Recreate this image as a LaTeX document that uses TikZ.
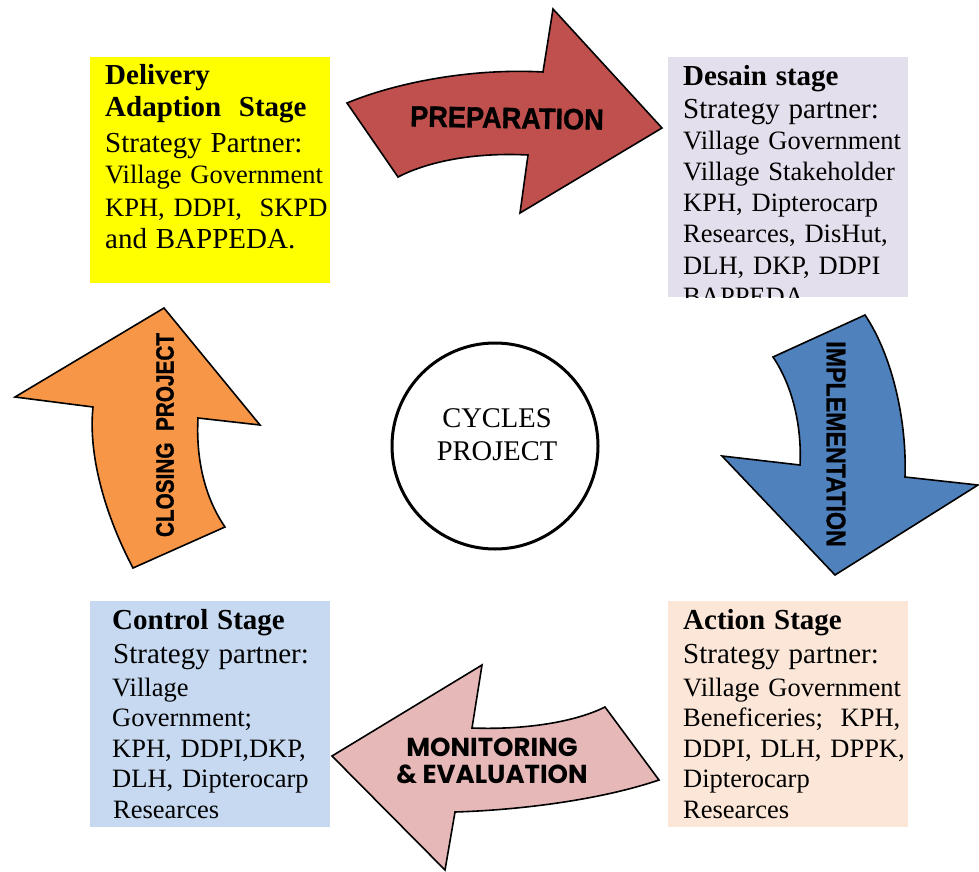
\documentclass[tikz,border=0pt]{standalone}
\usepackage{graphicx}
\usepackage{fontspec}
\setmainfont{Liberation Serif}
\newfontfamily\arrowfont[BoldFeatures={FakeBold=1.2}]{Liberation Sans}
\newfontfamily\comicfont{Poppins}
\definecolor{yellowbox}{HTML}{FFFF00}
\definecolor{lavenderbox}{HTML}{E4DFEC}
\definecolor{bluebox}{HTML}{C6D9F1}
\definecolor{peachbox}{HTML}{FBE6D8}
\definecolor{prepcolor}{HTML}{C0504D}
\definecolor{implcolor}{HTML}{4F81BD}
\definecolor{closecolor}{HTML}{F79646}
\definecolor{moncolor}{HTML}{E6B9B8}
\newcommand\stagehead{\fontsize{29}{31}\selectfont\bfseries}
\newcommand\stagesub{\fontsize{29}{31}\selectfont}
\tikzset{
  stagebox/.style={anchor=north west, inner sep=0pt, minimum width=240pt},
  stagetext/.style={anchor=base west, align=left, inner sep=0pt, text width=232pt},
  blockarrow/.style={draw=black, line width=1.6pt, line join=miter},
  arrowlabel/.style={inner sep=0pt, text=black},
}
\begin{document}
\begin{tikzpicture}[x=1pt,y=-1pt]
\useasboundingbox (0,0) rectangle (979,872);

% stage boxes
\node[stagebox, fill=yellowbox, minimum height=226pt] (delivery) at (90,57) {};
\node[stagetext, font=\fontsize{26.5}{32}\selectfont] (deliverytext) at (105,85)
  {{\stagehead Delivery}\\{\stagehead Adaption\ \ Stage}\\[3pt]{\stagesub Strategy Partner:}\\Village Government\\KPH, DDPI,\ \ SKPD\\{\stagesub and BAPPEDA.}};

\node[stagebox, fill=lavenderbox, minimum height=240pt] (desain) at (668,57) {};
\begin{scope}
  \clip (desain.north west) rectangle (desain.south east);
  \node[stagetext, font=\fontsize{26.5}{31}\selectfont] (desaintext) at (683,86)
    {{\stagehead Desain stage}\\[2pt]{\stagesub Strategy partner:}\\Village Government\\Village Stakeholder\\KPH, Dipterocarp\\Researces, DisHut,\\DLH, DKP, DDPI\\BAPPEDA};
\end{scope}

\node[stagebox, fill=bluebox, minimum height=226pt] (control) at (90,601) {};
\node[stagetext, font=\fontsize{26.5}{30.5}\selectfont] (controltext) at (112,629)
  {{\stagehead Control Stage}\\[3.5pt]\hspace*{1pt}{\stagesub Strategy partner:}\\[2.5pt]Village\\Government;\\KPH, DDPI,DKP,\\DLH, Dipterocarp\\\hspace*{1pt}Researces};

\node[stagebox, fill=peachbox, minimum height=226pt] (action) at (668,601) {};
\node[stagetext, font=\fontsize{26.5}{30.5}\selectfont] (actiontext) at (683,629)
  {{\stagehead Action Stage}\\[3.5pt]{\stagesub Strategy partner:}\\[2.5pt]Village Government\\Beneficeries;\ \ KPH,\\DDPI, DLH, DPPK,\\Dipterocarp\\Researces};

% centre
\node[draw, circle, line width=3pt, minimum size=206pt, inner sep=0pt] (cycle) at (495,446) {};
\node[align=center, inner sep=0pt, font=\fontsize{28.5}{33}\selectfont] (cycletext) at (497,435) {CYCLES\\PROJECT};

% curved block arrows
\draw[blockarrow, fill=prepcolor] (347,103) .. controls (395,83) and (470,68) .. (543,72)
  -- (553,9) -- (662,128) -- (520,213) -- (528,155)
  .. controls (470,152) and (425,163) .. (398,177) -- cycle;
\node[arrowlabel, font=\arrowfont\bfseries\fontsize{28}{28}\selectfont, rotate=-1] (preplabel) at (507,118) {\scalebox{0.97}[1.05]{PREPARATION}};

\draw[blockarrow, fill=implcolor] (773,357) -- (865,315)
  .. controls (892,355) and (907,420) .. (905,477)
  -- (978,485) -- (835,575) -- (722,456) -- (800,465)
  .. controls (802,425) and (792,385) .. (773,357) -- cycle;
\node[arrowlabel, font=\arrowfont\bfseries\fontsize{27}{27}\selectfont, rotate=-90] (impllabel) at (836,444) {\scalebox{0.86}[1]{IMPLEMENTATION}};

\draw[blockarrow, fill=moncolor] (332,756) -- (482,665) -- (472,728)
  .. controls (525,730) and (575,722) .. (605,707)
  -- (659,780) .. controls (600,800) and (520,810) .. (455,812)
  -- (445,870) -- cycle;
\node[arrowlabel, align=center, font=\comicfont\bfseries\fontsize{26}{27}\selectfont] (monlabel) at (492,761) {MONITORING\\\& EVALUATION};

\draw[blockarrow, fill=closecolor] (164,308) -- (260,425) -- (198,418)
  .. controls (196,455) and (203,495) .. (225,527)
  -- (133,568) .. controls (105,515) and (88,455) .. (93,407)
  -- (15,397) -- cycle;
\node[arrowlabel, font=\arrowfont\bfseries\fontsize{25}{25}\selectfont, rotate=90] (closelabel) at (165,435) {\scalebox{0.83}[1]{CLOSING\ \ PROJECT}};
\end{tikzpicture}
\end{document}
